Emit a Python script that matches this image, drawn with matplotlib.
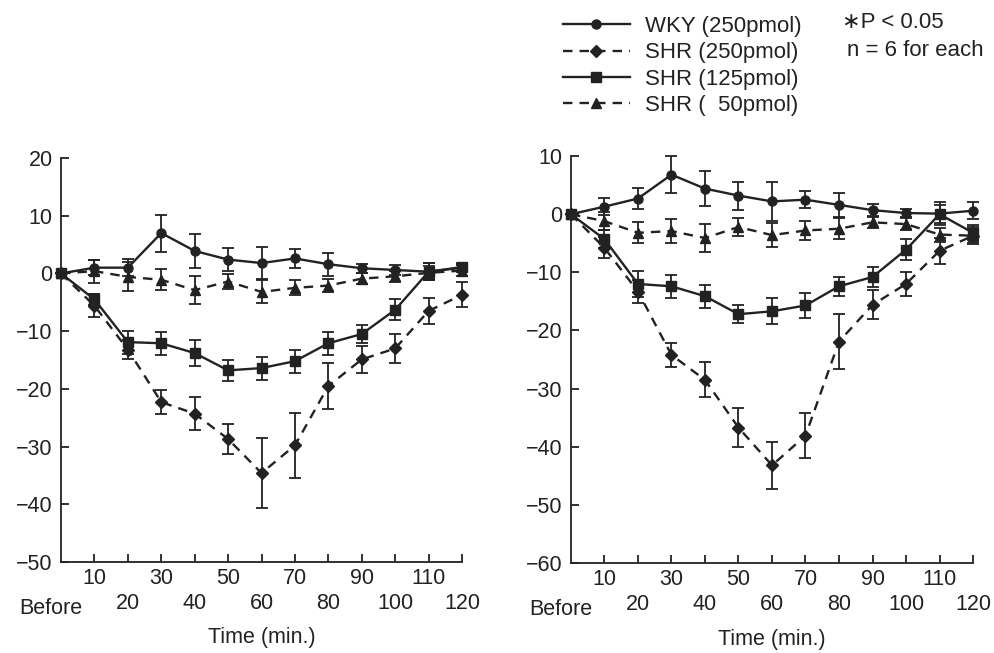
import matplotlib
matplotlib.use("Agg")
import matplotlib.pyplot as plt

plt.rcParams['font.family'] = ['Liberation Sans', 'DejaVu Sans']

INK = '#222222'

time = [0, 10, 20, 30, 40, 50, 60, 70, 80, 90, 100, 110, 120]
odd_ticks = [10, 30, 50, 70, 90, 110]
even_ticks = [20, 40, 60, 80, 100, 120]

labels = ['WKY (250pmol)', 'SHR (250pmol)', 'SHR (125pmol)', 'SHR (  50pmol)']

# left panel
wky_l = [0, 1.0, 1.0, 7.0, 3.9, 2.4, 1.8, 2.6, 1.6, 0.9, 0.6, 0.3, 1.0]
wky_l_err = [0, 1.3, 1.5, 3.2, 3.0, 2.0, 2.8, 1.7, 2.0, 0.8, 0.8, 1.5, 0.8]
shr250_l = [0, -5.6, -13.2, -22.3, -24.3, -28.7, -34.6, -29.8, -19.5, -14.9, -13.0, -6.5, -3.7]
shr250_l_err = [0, 2.0, 1.7, 2.1, 2.9, 2.6, 6.0, 5.6, 4.0, 2.3, 2.5, 2.2, 2.2]
shr125_l = [0, -4.5, -11.9, -12.1, -13.8, -16.8, -16.4, -15.2, -12.1, -10.5, -6.3, 0.3, 1.1]
shr125_l_err = [0, 1.0, 2.0, 2.0, 2.2, 1.8, 2.0, 2.0, 2.0, 1.5, 1.8, 1.5, 0.6]
shr50_l = [0, 0.4, -0.6, -1.1, -2.9, -1.4, -3.2, -2.5, -2.1, -0.9, -0.5, 0.1, 0.5]
shr50_l_err = [0, 2.0, 2.5, 1.8, 2.4, 1.3, 2.0, 1.3, 1.2, 1.0, 1.0, 1.2, 1.0]

# right panel
wky_r = [0, 1.3, 2.7, 6.8, 4.4, 3.2, 2.2, 2.5, 1.6, 0.7, 0.2, 0.1, 0.6]
wky_r_err = [0, 1.5, 1.8, 3.2, 3.0, 2.4, 3.3, 1.5, 2.1, 1.0, 0.7, 2.0, 1.5]
shr250_r = [0, -5.8, -13.3, -24.2, -28.5, -36.7, -43.2, -38.1, -21.9, -15.6, -12.0, -6.3, -3.7]
shr250_r_err = [0, 1.8, 2.0, 2.0, 3.0, 3.4, 4.0, 3.9, 4.8, 2.5, 2.0, 2.2, 1.5]
shr125_r = [0, -4.3, -12.0, -12.4, -14.1, -17.2, -16.7, -15.7, -12.4, -10.8, -6.1, 0.0, -3.2]
shr125_r_err = [0, 1.5, 2.2, 2.0, 2.0, 1.5, 2.2, 2.2, 1.6, 1.7, 1.8, 1.5, 1.3]
shr50_r = [0, -1.2, -3.2, -2.9, -4.1, -2.2, -3.6, -2.8, -2.5, -1.4, -1.7, -3.5, -3.7]
shr50_r_err = [0, 1.5, 1.8, 2.0, 2.4, 1.5, 2.1, 1.6, 1.8, 1.0, 1.0, 1.2, 1.2]

styles = [
    dict(marker='o', ms=6.5, ls='-'),
    dict(marker='D', ms=6.5, ls=(0, (4, 3))),
    dict(marker='s', ms=7, ls='-'),
    dict(marker='^', ms=7, ls=(0, (4, 3))),
]

FS = 15.5


def draw_panel(ax, series, ylim, yticks):
    handles = []
    for (vals, errs), st in zip(series, styles):
        ax.errorbar(time, vals, yerr=errs, fmt='none', ecolor=INK,
                    elinewidth=1.3, capsize=4.5, capthick=1.3, clip_on=False)
        h, = ax.plot(time, vals, color=INK, lw=1.7, ls=st['ls'],
                     marker=st['marker'], ms=st['ms'], mfc=INK, mec=INK,
                     clip_on=False, zorder=3)
        handles.append(h)
    ax.set_xlim(0, 120)
    ax.set_ylim(*ylim)
    ax.set_yticks(yticks)
    for s in ['top', 'right']:
        ax.spines[s].set_visible(False)
    for s in ['left', 'bottom']:
        ax.spines[s].set_color(INK)
        ax.spines[s].set_linewidth(1.3)
    ax.set_xticks(even_ticks)
    ax.set_xticks(odd_ticks, minor=True)
    ax.set_xticklabels([str(t) for t in even_ticks])
    ax.set_xticklabels([str(t) for t in odd_ticks], minor=True)
    ax.tick_params(axis='both', which='both', direction='in', length=6,
                   width=1.3, color=INK, labelcolor=INK, labelsize=FS)
    ax.tick_params(axis='x', which='minor', pad=4)
    ax.tick_params(axis='x', which='major', pad=22)
    ax.tick_params(axis='y', pad=6)
    ax.annotate('Before', xy=(0, 0), xycoords=('data', 'axes fraction'),
                xytext=(-7, -26), textcoords='offset points',
                ha='center', va='top', fontsize=FS, color=INK)
    ax.set_xlabel('Time (min.)', fontsize=FS, color=INK, va='center')
    ax.xaxis.set_label_coords(0.5, -0.188)
    return handles


fig = plt.figure(figsize=(9.94, 6.53), dpi=100)
ax1 = fig.add_axes([0.0614, 0.1394, 0.4034, 0.6186])
ax2 = fig.add_axes([0.5744, 0.1378, 0.4045, 0.6232])

handles = draw_panel(ax1, [(wky_l, wky_l_err), (shr250_l, shr250_l_err),
                           (shr125_l, shr125_l_err), (shr50_l, shr50_l_err)],
                     (-50, 20), range(-50, 21, 10))
draw_panel(ax2, [(wky_r, wky_r_err), (shr250_r, shr250_r_err),
                 (shr125_r, shr125_r_err), (shr50_r, shr50_r_err)],
           (-60, 10), range(-60, 11, 10))

leg = fig.legend(handles, labels, loc='upper left',
                 bbox_to_anchor=(563 / 994, 1 - 16 / 653), frameon=False,
                 fontsize=16, handlelength=3.0, handletextpad=0.7,
                 labelspacing=0.24, borderpad=0, borderaxespad=0, numpoints=1)
for t in leg.get_texts():
    t.set_color(INK)

fig.text(842 / 994, 1 - 23 / 653, '∗P < 0.05', fontsize=16, color=INK,
         va='center', ha='left')
fig.text(847 / 994, 1 - 50 / 653, 'n = 6 for each', fontsize=16, color=INK,
         va='center', ha='left')

fig.savefig('out.png', dpi=100)
